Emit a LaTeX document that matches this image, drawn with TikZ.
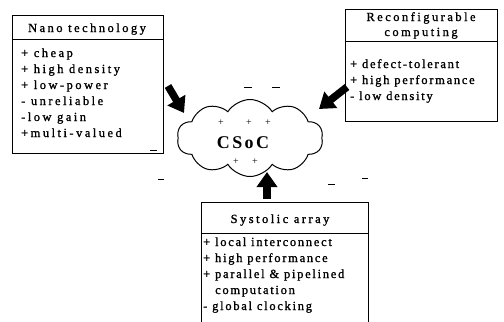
\documentclass[tikz,border=0pt]{standalone}
\usepackage{fontspec}
\setmainfont{Liberation Serif}
\newfontfamily\bodyfont{Liberation Serif}[LetterSpace=14, FakeBold=1.2]
\newfontfamily\widebodyfont{Liberation Serif}[LetterSpace=20, FakeBold=1.2]
\newfontfamily\headfont{Liberation Serif}[LetterSpace=20, FakeBold=1.2]
\newfontfamily\cloudfont{Liberation Serif Bold}[LetterSpace=14]
\usetikzlibrary{shapes.symbols,arrows.meta}
\begin{document}
\begin{tikzpicture}[x=1bp,y=-1bp,
  panel/.style={draw, line width=1bp, inner sep=0, anchor=north west},
  divider/.style={line width=1bp},
  item/.style={anchor=base west, inner sep=0, font=\bodyfont\fontsize{12.5}{15}\selectfont},
  wideitem/.style={item, font=\widebodyfont\fontsize{12.5}{15}\selectfont},
  head/.style={anchor=base, inner sep=0, font=\headfont\fontsize{12.5}{15}\selectfont},
  plus/.style={inner sep=0, font=\fontsize{10}{10}\selectfont},
  fatarrow/.style={line width=7.5bp, -{Triangle[width=20bp,length=15bp]}},
  speck/.style={line width=0.9bp},
]
\useasboundingbox (0,0) rectangle (504,321);
\clip (0,0) rectangle (504,321);

% ---------- Nano technology ----------
\node[panel, minimum width=151bp, minimum height=138bp] (nano) at (12,15) {};
\draw[divider] (nano.west |- 0,39) -- (nano.east |- 0,39);
\node[head] (nanoT) at (87,32) {Nano technology};
\node[wideitem] (n1) at (21,57)  {+ cheap};
\node[wideitem] (n2) at (21,73)  {+ high density};
\node[wideitem] (n3) at (21,89)  {+ low-power};
\node[wideitem] (n4) at (21,105) {- unreliable};
\node[wideitem] (n5) at (21,121) {-low gain};
\node[wideitem] (n6) at (21,137) {+multi-valued};

% ---------- Reconfigurable computing ----------
\node[panel, minimum width=152bp, minimum height=112bp] (reco) at (345,9) {};
\draw[divider] (reco.west |- 0,41) -- (reco.east |- 0,41);
\node[head] (recoT1) at (421,21) {Reconfigurable};
\node[head] (recoT2) at (421,36) {computing};
\node[item] (r1) at (350,68)  {+ defect-tolerant};
\node[item] (r2) at (350,84)  {+ high performance};
\node[item] (r3) at (350,100) {- low density};

% ---------- Systolic array ----------
\node[panel, minimum width=167bp, minimum height=140bp] (sys) at (201,202) {};
\draw[divider] (sys.west |- 0,233) -- (sys.east |- 0,233);
\node[head] (sysT) at (280,223) {Systolic array};
\node[item] (s1) at (203,246) {+ local interconnect};
\node[item] (s2) at (203,262) {+ high performance};
\node[item] (s3) at (203,278) {+ parallel \& pipelined};
\node[item] (s4) at (215,294) {computation};
\node[item] (s5) at (203,310) {- global clocking};

% ---------- CSoC cloud ----------
\node[cloud, draw, line width=1bp, cloud puffs=10, cloud puff arc=115, aspect=1.9,
      minimum width=146bp, minimum height=77bp, inner sep=0] (cloud) at (250,138) {};
\node[inner sep=0, font=\cloudfont\fontsize{18}{18}\selectfont] (csoc) at (243,143) {CSoC};
\node[plus] (p1) at (221,123) {+};
\node[plus] (p2) at (249,123) {+};
\node[plus] (p3) at (268,123) {+};
\node[plus] (p4) at (236,162) {+};
\node[plus] (p5) at (255,162) {+};

% ---------- arrows into the cloud ----------
\coordinate (nanoOut) at (168,86);
\coordinate (cloudNW) at (184,113);
\coordinate (recoOut) at (347,87);
\coordinate (cloudNE) at (319,109);
\coordinate (sysOut)  at (267,199);
\coordinate (cloudS)  at (267,172);
\draw[fatarrow] (nanoOut) -- (cloudNW);
\draw[fatarrow] (recoOut) -- (cloudNE);
\draw[fatarrow] (sysOut) -- (cloudS);

% ---------- small stray marks ----------
\draw[speck] (150,150) -- (157,150);
\draw[speck] (244,87) -- (252,87);
\draw[speck] (272,87) -- (280,87);
\draw[speck] (158,179) -- (164,179);
\draw[speck] (328,184) -- (335,184);
\draw[speck] (362,178) -- (368,178);
\end{tikzpicture}
\end{document}
